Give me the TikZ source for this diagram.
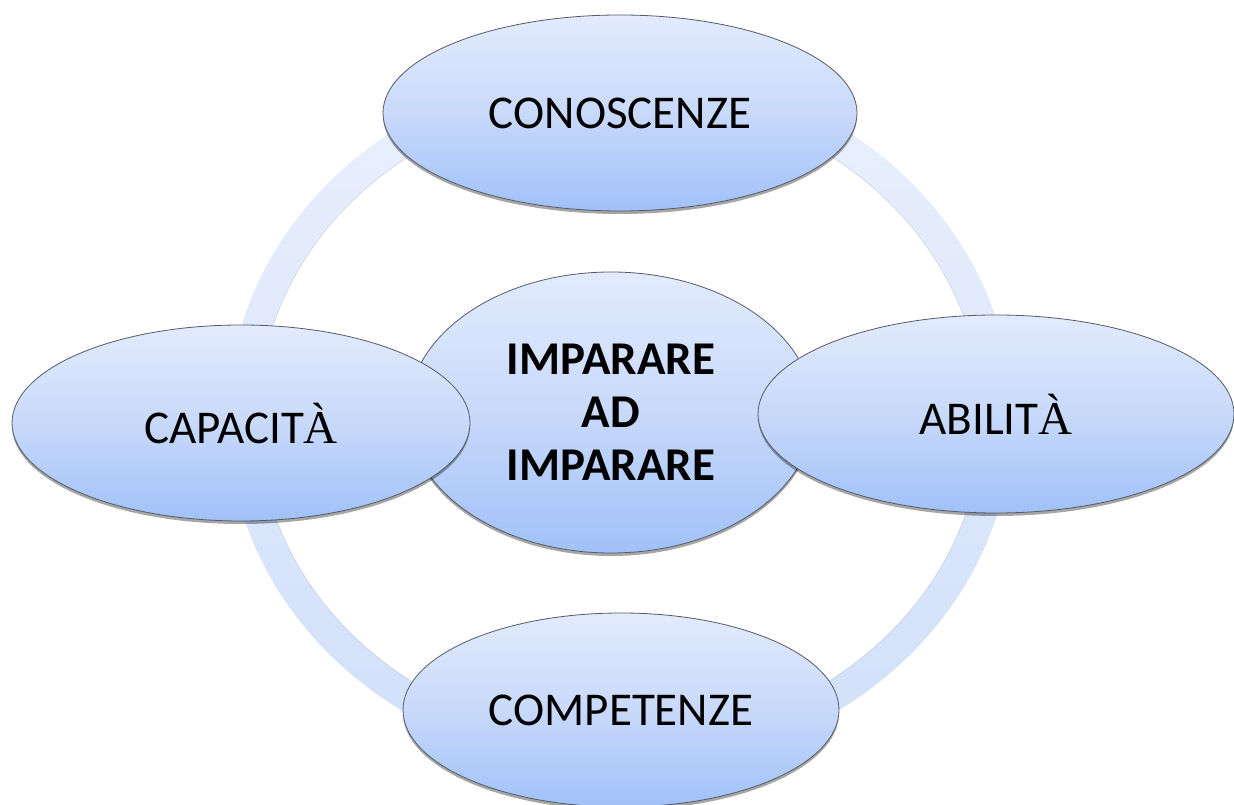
\documentclass[tikz,border=0pt]{standalone}
\usepackage{fontspec}
\setmainfont{Carlito}
\newfontfamily\serifacc{Liberation Serif}
\usetikzlibrary{shapes.geometric,shadows}
\definecolor{elltop}{RGB}{226,235,253}
\definecolor{ellmid}{RGB}{200,217,250}
\definecolor{ellbot}{RGB}{160,193,248}
\definecolor{ringtop}{RGB}{234,240,252}
\definecolor{ringbot}{RGB}{208,223,250}
\definecolor{edgecol}{RGB}{85,90,100}
\tikzset{
  bubble/.style={ellipse, draw=edgecol, line width=0.8pt,
    top color=elltop, bottom color=ellbot, middle color=ellmid,
    inner sep=0pt, align=center, text=black,
    font=\fontsize{47}{53}\selectfont,
    drop shadow={shadow xshift=0pt, shadow yshift=-3pt, opacity=0.35, fill=black}},
  ringband/.style={even odd rule, top color=ringtop, bottom color=ringbot},
}
\begin{document}
\begin{tikzpicture}[x=1pt,y=1pt]
\useasboundingbox (0,0) rectangle (1234,805);
\coordinate (ringc) at (620,387);
\shade[ringband] (ringc) ellipse [x radius=392, y radius=352]
                 (ringc) ellipse [x radius=362, y radius=322];
\draw[gray, opacity=0.25, line width=0.6pt] (ringc) ellipse [x radius=362, y radius=322];
\node[bubble, minimum width=406, minimum height=281] (center) at (611,392.5)
  {\bfseries IMPARARE\\\bfseries AD\\\bfseries IMPARARE};
\node[bubble, minimum width=474, minimum height=196] (top) at (620,692) {CONOSCENZE};
\node[bubble, minimum width=458, minimum height=196] (left) at (241,382) {CAPACIT{\serifacc À}};
\node[bubble, minimum width=476, minimum height=198] (right) at (996,391) {ABILIT{\serifacc À}};
\node[bubble, minimum width=436, minimum height=194] (bottom) at (621,95) {COMPETENZE};
\end{tikzpicture}
\end{document}
